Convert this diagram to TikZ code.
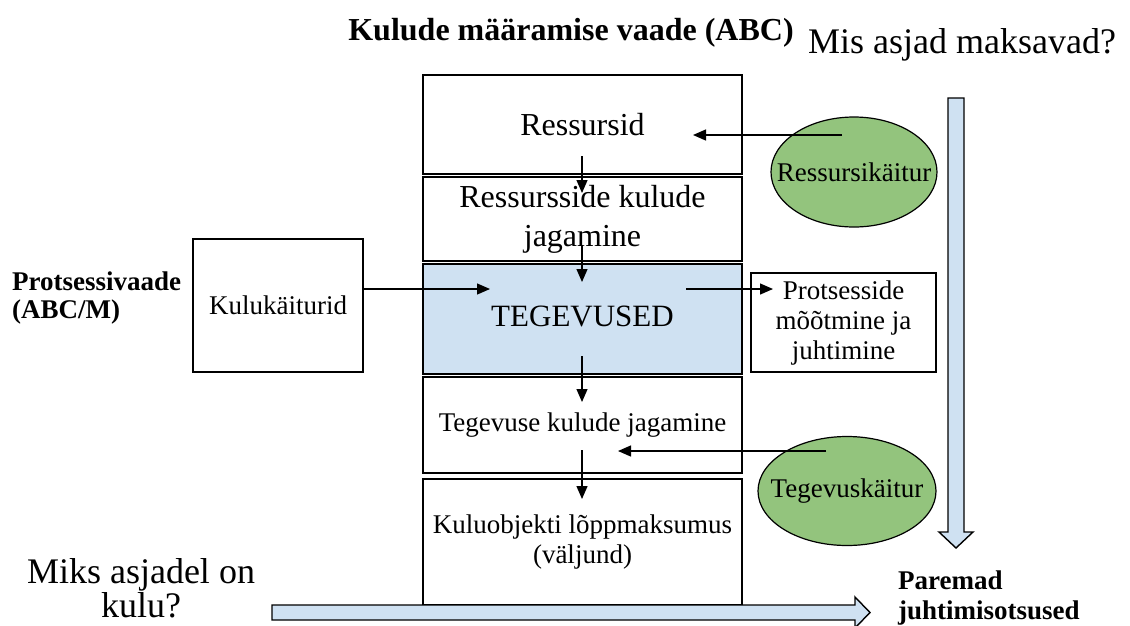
\documentclass[tikz,border=0pt]{standalone}
\usepackage{fontspec}
\setmainfont{Liberation Serif}
\usetikzlibrary{arrows.meta,shapes.geometric}
\definecolor{lblue}{RGB}{207,225,242}
\definecolor{lgreen}{RGB}{147,196,125}
\begin{document}
\begin{tikzpicture}[x=1pt,y=-1pt,
  colbox/.style={draw, line width=1.4pt, minimum width=319pt, align=center, inner sep=0pt},
  sidebox/.style={draw, line width=1.4pt, align=center, inner sep=0pt},
  driver/.style={ellipse, draw, line width=1.2pt, fill=lgreen, inner sep=0pt, font=\fontsize{27}{30}\selectfont},
  conn/.style={-{Triangle[length=13pt,width=11pt]}, line width=1.3pt},
  bigarrow/.style={draw, line width=1.4pt, fill=lblue},
  big/.style={font=\fontsize{32}{39}\selectfont},
  small/.style={font=\fontsize{27}{30}\selectfont},
  txt/.style={inner sep=0pt, align=center}]
\useasboundingbox (0,0) rectangle (1130,625);
% column boxes
\node[colbox, big, minimum height=99pt] (R) at (582.5,124.5) {Ressursid};
\node[colbox, big, minimum height=84pt] (RK) at (582.5,219) {Ressursside kulude\\jagamine};
\node[colbox, big, minimum height=110pt, fill=lblue, font=\fontsize{31}{37}\selectfont] (T) at (582.5,319) {\raisebox{6pt}{TEGEVUSED}};
\node[colbox, small, minimum height=96pt] (TK) at (582.5,425) {Tegevuse kulude jagamine};
\node[colbox, small, minimum height=126pt] (K) at (582.5,542) {Kuluobjekti lõppmaksumus\\(väljund)};
% side boxes
\node[sidebox, small, minimum width=170pt, minimum height=133pt] (KK) at (278,305.5) {Kulukäiturid};
\node[sidebox, small, minimum width=185pt, minimum height=99pt] (P) at (843.5,322.5) {Protsesside\\mõõtmine ja\\juhtimine};
% drivers
\node[driver, minimum width=166pt, minimum height=110pt] (RD) at (854,172) {\makebox[0pt]{Ressursikäitur}};
\node[driver, minimum width=178pt, minimum height=109pt] (TD) at (847,491) {\makebox[0pt]{Tegevuskäitur}};
% texts
\node[txt, anchor=base, font=\bfseries\fontsize{32}{38}\selectfont] (title) at (571,40) {Kulude määramise vaade (ABC)};
\node[txt, anchor=base west, font=\fontsize{36}{42}\selectfont] (q1) at (808,53) {Mis asjad maksavad?};
\node[txt, anchor=west, align=left, font=\bfseries\fontsize{27}{28}\selectfont] (pv) at (12,298) {Protsessivaade\\(ABC/M)};
\node[txt, font=\fontsize{36}{34}\selectfont] (q2) at (141,588) {Miks asjadel on\\kulu?};
\node[txt, anchor=west, align=left, font=\bfseries\fontsize{27}{30}\selectfont] (pj) at (898,598) {Paremad\\juhtimisotsused};
% connector points
\coordinate (v1s) at (582,156); \coordinate (v1e) at (582,193);
\coordinate (v2s) at (582,246); \coordinate (v2e) at (582,282);
\coordinate (v3s) at (582,356); \coordinate (v3e) at (582,402);
\coordinate (v4s) at (582,450); \coordinate (v4e) at (582,499);
\coordinate (k1) at (490,289);
\coordinate (t1s) at (686,289); \coordinate (t1e) at (773,289);
\coordinate (r1s) at (842,135); \coordinate (r1e) at (693,135);
\coordinate (d1s) at (826,451); \coordinate (d1e) at (618,451);
\draw[conn] (v1s) -- (v1e);
\draw[conn] (v2s) -- (v2e);
\draw[conn] (v3s) -- (v3e);
\draw[conn] (v4s) -- (v4e);
\draw[conn] (KK.east |- k1) -- (k1);
\draw[conn] (t1s) -- (t1e);
\draw[conn] (r1s) -- (r1e);
\draw[conn] (d1s) -- (d1e);
% big blue arrows
\draw[bigarrow] (948,98) -- (964,98) -- (964,532) -- (973,532) -- (956,548) -- (939,532) -- (948,532) -- cycle;
\draw[bigarrow] (272,605) -- (855,605) -- (855,597) -- (870,612.5) -- (855,628) -- (855,620) -- (272,620) -- cycle;
\end{tikzpicture}
\end{document}
